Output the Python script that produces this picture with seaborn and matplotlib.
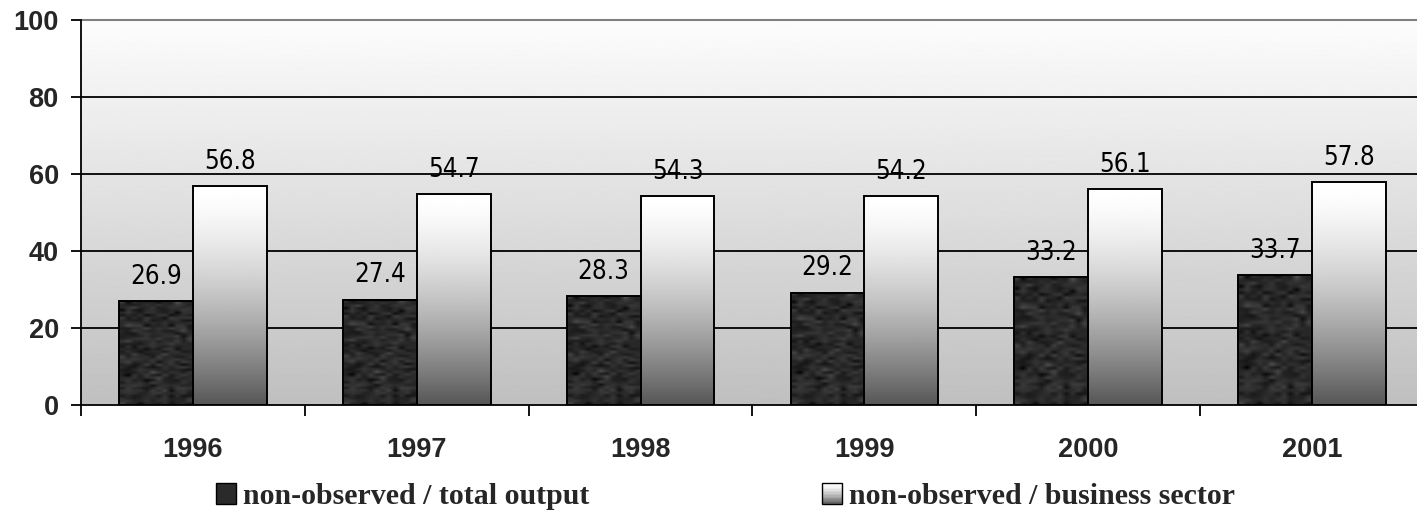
import numpy as np
import pandas as pd
import matplotlib
matplotlib.use("Agg")
import matplotlib.pyplot as plt
import seaborn as sns
from matplotlib.patches import Rectangle
from matplotlib.legend_handler import HandlerBase

years = ["1996", "1997", "1998", "1999", "2000", "2001"]
total_output = [26.9, 27.4, 28.3, 29.2, 33.2, 33.7]
business_sector = [56.8, 54.7, 54.3, 54.2, 56.1, 57.8]
series_names = ["non-observed / total output", "non-observed / business sector"]
y_ticks = [0, 20, 40, 60, 80, 100]

df = pd.DataFrame({
    "year": years * 2,
    "value": total_output + business_sector,
    "series": [series_names[0]] * len(years) + [series_names[1]] * len(years),
})

sns.set_style("white")
plt.rcParams['font.family'] = ['Liberation Sans', 'DejaVu Sans']

fig = plt.figure(figsize=(14.17, 5.13), dpi=100)
W, H = 1417, 513
ax = fig.add_axes([81 / W, 1 - 405 / H, 1343 / W, 385 / H])

sns.barplot(data=df, x="year", y="value", hue="series", order=years,
            hue_order=series_names, width=0.66, ax=ax, legend=False,
            palette=["#2a2a2a", "#dddddd"], edgecolor="black", linewidth=1.4,
            saturation=1)

# background gradient
grad = np.linspace(0.99, 0.75, 256).reshape(-1, 1)
ax.imshow(grad, cmap="gray", vmin=0, vmax=1, aspect="auto",
          extent=(-0.5, 5.5, 0, 100), origin="upper", zorder=0)

# gridlines
for yv in y_ticks[1:-1]:
    ax.axhline(yv, color="black", lw=1.3, zorder=1)
ax.axhline(100, color="#808080", lw=1.5, zorder=1, clip_on=False)

rng = np.random.default_rng(3)
tex = rng.normal(0, 1, (40, 12))
tex = np.kron(tex, np.ones((3, 3)))
k = np.ones(3) / 3
tex = np.apply_along_axis(lambda r: np.convolve(r, k, mode="same"), 0, tex)
tex = np.apply_along_axis(lambda r: np.convolve(r, k, mode="same"), 1, tex)
tex = 0.16 + 0.05 * tex

t = np.linspace(0, 1, 256)
light = (1 - 0.66 * t ** 1.5).reshape(-1, 1)

for ci, cont in enumerate(ax.containers):
    for bar in cont:
        x0, y0 = bar.get_x(), bar.get_y()
        w, h = bar.get_width(), bar.get_height()
        img = tex if ci == 0 else light
        ax.imshow(img, cmap="gray", vmin=0, vmax=1, aspect="auto",
                  extent=(x0, x0 + w, y0, y0 + h), origin="upper",
                  zorder=2, interpolation="bilinear")
        bar.set_facecolor("none")
        bar.set_zorder(3)
    ax.bar_label(cont, fmt="%.1f", padding=8, fontsize=18.5,
                 family="DejaVu Sans", fontstretch="condensed", color="black",
                 zorder=4)

ax.set_xlim(-0.5, 5.5)
ax.set_ylim(0, 100)

for s in ["top", "right"]:
    ax.spines[s].set_visible(False)
for s in ["left", "bottom"]:
    ax.spines[s].set_color("black")
    ax.spines[s].set_linewidth(1.3)
    ax.spines[s].set_zorder(5)

ax.set_yticks(y_ticks)
ax.set_yticklabels([str(v) for v in y_ticks], fontsize=19.5, fontweight="bold")
ax.tick_params(axis="y", direction="out", length=7, width=1.3, color="black", pad=9, left=True)

ax.set_xticks(range(len(years)))
ax.set_xticklabels(years, fontsize=19.5, fontweight="bold")
ax.set_xticks(np.arange(-0.5, 5.6, 1.0), minor=True)
ax.tick_params(axis="x", which="major", length=0, pad=23)
ax.tick_params(axis="x", which="minor", direction="out", length=8, width=1.3, color="black", bottom=True)
ax.set_xlabel("")
ax.set_ylabel("")


class GradHandler(HandlerBase):
    def create_artists(self, legend, orig_handle, xdescent, ydescent, width, height, fontsize, trans):
        arts = []
        n = 14
        for i in range(n):
            v = 1 - 0.6 * (i / (n - 1)) ** 1.4
            r = Rectangle((-xdescent, -ydescent + height * (1 - (i + 1) / n)), width, height / n,
                          facecolor=(v, v, v), edgecolor="none", transform=trans)
            arts.append(r)
        arts.append(Rectangle((-xdescent, -ydescent), width, height, facecolor="none",
                              edgecolor="black", lw=1.0, transform=trans))
        return arts


class DarkHandler(HandlerBase):
    def create_artists(self, legend, orig_handle, xdescent, ydescent, width, height, fontsize, trans):
        return [Rectangle((-xdescent, -ydescent), width, height, facecolor="#2a2a2a",
                          edgecolor="black", lw=1.0, transform=trans)]


h1 = Rectangle((0, 0), 1, 1)
h2 = Rectangle((0, 0), 1, 1)
leg = fig.legend([h1, h2], series_names, loc="center", bbox_to_anchor=(0.512, 0.032),
                 ncol=2, frameon=False, handler_map={h1: DarkHandler(), h2: GradHandler()},
                 handlelength=0.67, handleheight=0.67, handletextpad=0.23,
                 columnspacing=7.8, borderpad=0.2,
                 prop={"family": ["Liberation Serif", "DejaVu Serif"], "weight": "bold", "size": 21.5})

fig.savefig("out.png", dpi=100)
